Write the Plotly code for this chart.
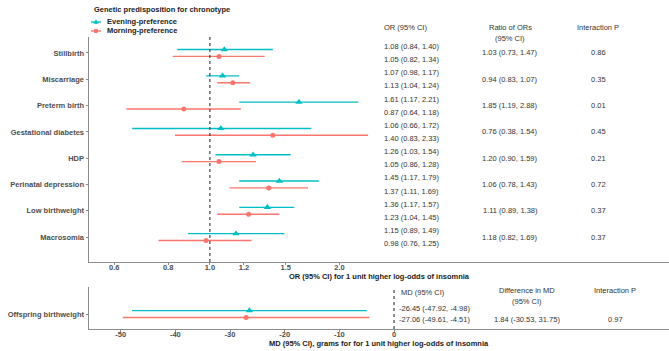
import plotly.graph_objects as go
import math

# ---------------- data ----------------
outcomes = ["Stillbirth", "Miscarriage", "Preterm birth", "Gestational diabetes",
            "HDP", "Perinatal depression", "Low birthweight", "Macrosomia"]
eve_or = [1.08, 1.07, 1.61, 1.06, 1.26, 1.45, 1.36, 1.15]
eve_lo = [0.84, 0.98, 1.17, 0.66, 1.03, 1.17, 1.17, 0.89]
eve_hi = [1.40, 1.17, 2.21, 1.72, 1.54, 1.79, 1.57, 1.49]
mor_or = [1.05, 1.13, 0.87, 1.40, 1.05, 1.37, 1.23, 0.98]
mor_lo = [0.82, 1.04, 0.64, 0.83, 0.86, 1.11, 1.04, 0.76]
mor_hi = [1.34, 1.24, 1.18, 2.33, 1.28, 1.69, 1.45, 1.25]
ratio_est = [1.03, 0.94, 1.85, 0.76, 1.20, 1.06, 1.11, 1.18]
ratio_lo = [0.73, 0.83, 1.19, 0.38, 0.90, 0.78, 0.89, 0.82]
ratio_hi = [1.47, 1.07, 2.88, 1.54, 1.59, 1.43, 1.38, 1.69]
p_inter = ["0.86", "0.35", "0.01", "0.45", "0.21", "0.72", "0.37", "0.37"]

or_ticks = [0.6, 0.8, 1.0, 1.2, 1.5, 2.0]
or_ticklabels = ["0.6", "0.8", "1.0", "1.2", "1.5", "2.0"]

bw_outcome = ["Offspring birthweight"]
bw_eve = [-26.45]; bw_eve_lo = [-47.92]; bw_eve_hi = [-4.98]
bw_mor = [-27.06]; bw_mor_lo = [-49.61]; bw_mor_hi = [-4.51]
bw_diff = [1.84]; bw_diff_lo = [-30.53]; bw_diff_hi = [31.75]
bw_p = ["0.97"]
md_ticks = [-50, -40, -30, -20, -10, 0]

series_names = ["Evening-preference", "Morning-preference"]

# ---------------- style ----------------
TEAL = "#00BFC4"
SALMON = "#F8766D"
FONT = "Liberation Sans"
AXC = "#8c8c8c"
LABC = "#4d4d4d"
TXT = "#333333"
FS = 7.5

W, H = 669, 351
ML, MR, MT, MB = 89, 0, 37, 22
PW = W - ML - MR
PH = H - MT - MB


def px(xp):
    return (xp - ML) / PW


def py(yp):
    return (H - MB - yp) / PH


def fmt(e, lo, hi):
    return f"{e:.2f} ({lo:.2f}, {hi:.2f})"


n = len(outcomes)
rows = [n - i for i in range(n)]
dodge = 0.13
tdodge = 0.25

fig = go.Figure()

# top panel
fig.add_trace(go.Scatter(
    x=eve_or, y=[r + dodge for r in rows], mode="markers", name=series_names[0],
    marker=dict(symbol="triangle-up", size=6.5, color=TEAL),
    error_x=dict(type="data", symmetric=False,
                 array=[h - e for e, h in zip(eve_or, eve_hi)],
                 arrayminus=[e - l for e, l in zip(eve_or, eve_lo)],
                 color=TEAL, thickness=1.4, width=0),
    xaxis="x", yaxis="y", showlegend=False))
fig.add_trace(go.Scatter(
    x=mor_or, y=[r - dodge for r in rows], mode="markers", name=series_names[1],
    marker=dict(symbol="circle", size=5, color=SALMON),
    error_x=dict(type="data", symmetric=False,
                 array=[h - e for e, h in zip(mor_or, mor_hi)],
                 arrayminus=[e - l for e, l in zip(mor_or, mor_lo)],
                 color=SALMON, thickness=1.4, width=0),
    xaxis="x", yaxis="y", showlegend=False))

# bottom panel
fig.add_trace(go.Scatter(
    x=bw_eve, y=[1 + dodge], mode="markers", name=series_names[0],
    marker=dict(symbol="triangle-up", size=6.5, color=TEAL),
    error_x=dict(type="data", symmetric=False,
                 array=[h - e for e, h in zip(bw_eve, bw_eve_hi)],
                 arrayminus=[e - l for e, l in zip(bw_eve, bw_eve_lo)],
                 color=TEAL, thickness=1.4, width=0),
    xaxis="x2", yaxis="y2", showlegend=False))
fig.add_trace(go.Scatter(
    x=bw_mor, y=[1 - dodge], mode="markers", name=series_names[1],
    marker=dict(symbol="circle", size=5, color=SALMON),
    error_x=dict(type="data", symmetric=False,
                 array=[h - e for e, h in zip(bw_mor, bw_mor_hi)],
                 arrayminus=[e - l for e, l in zip(bw_mor, bw_mor_lo)],
                 color=SALMON, thickness=1.4, width=0),
    xaxis="x2", yaxis="y2", showlegend=False))

top_dom = [py(262), 1]
bot_dom = [0, py(287)]

axis_common = dict(showline=True, linecolor=AXC, linewidth=1, showgrid=False,
                   zeroline=False, ticks="outside", tickcolor=AXC,
                   tickfont=dict(family=FONT, size=FS, color=LABC, weight="bold"))

fig.update_layout(
    width=W, height=H,
    margin=dict(l=ML, r=MR, t=MT, b=MB, autoexpand=False),
    paper_bgcolor="white", plot_bgcolor="white",
    font=dict(family=FONT, size=FS, color=TXT),
    xaxis=dict(type="log", range=[math.log10(0.524), math.log10(11.64)],
               tickvals=or_ticks, ticktext=or_ticklabels, anchor="y",
               domain=[0, 1], ticklen=2, ticklabelstandoff=-4, **axis_common),
    yaxis=dict(range=[0.053, 8.608], tickvals=rows, ticktext=outcomes,
               domain=top_dom, anchor="x", ticklen=2.5, **axis_common),
    xaxis2=dict(range=[-55.8, 50.3], tickvals=md_ticks,
                ticktext=[str(t) for t in md_ticks], anchor="y2",
                domain=[0, 1], ticklen=2, ticklabelstandoff=-4, **axis_common),
    yaxis2=dict(range=[0.43, 2.027], tickvals=[1], ticktext=bw_outcome,
                domain=bot_dom, anchor="x2", ticklen=2.5, **axis_common),
)

shapes = []
# reference lines
shapes.append(dict(type="line", xref="x", yref="y domain", x0=1, x1=1, y0=0, y1=1,
                   line=dict(color="#333333", width=1.1, dash="dot")))
shapes.append(dict(type="line", xref="x2", yref="y2 domain", x0=0, x1=0, y0=0, y1=1,
                   line=dict(color="#333333", width=1.1, dash="dot")))

ann = []


def A(text, xp, yval, yref="paper", anchor="left", bold=False, color=TXT, size=FS):
    ann.append(dict(text=text, x=px(xp), xref="paper", y=yval, yref=yref,
                    xanchor=anchor, yanchor="middle", showarrow=False,
                    font=dict(family=FONT, size=size, color=color,
                              weight="bold" if bold else "normal")))


# legend (custom)
A("Genetic predisposition for chronotype", 92, py(9), bold=True, color="#1a1a1a")
leg_y = [22, 31]
leg_col = [TEAL, SALMON]
for i, nm in enumerate(series_names):
    A(nm, 105, py(leg_y[i]), bold=True, color="#1a1a1a")
    shapes.append(dict(type="line", xref="paper", yref="paper",
                       x0=px(91), x1=px(101), y0=py(leg_y[i]), y1=py(leg_y[i]),
                       line=dict(color=leg_col[i], width=1.4)))
shapes.append(dict(type="path", xref="paper", yref="paper",
                   path=f"M {px(93.3)} {py(leg_y[0] + 1.8)} L {px(98.7)} {py(leg_y[0] + 1.8)} "
                        f"L {px(96)} {py(leg_y[0] - 2.8)} Z",
                   fillcolor=TEAL, line=dict(width=0)))
shapes.append(dict(type="circle", xref="paper", yref="paper",
                   x0=px(93.7), x1=px(98.3), y0=py(leg_y[1] - 2.3), y1=py(leg_y[1] + 2.3),
                   fillcolor=SALMON, line=dict(width=0)))

# top table headers
A("OR (95% CI)", 382, py(27))
A("Ratio of ORs", 510, py(27), anchor="center")
A("(95% CI)", 510, py(38), anchor="center")
A("Interaction P", 598, py(27), anchor="center")

for i, r in enumerate(rows):
    A(fmt(eve_or[i], eve_lo[i], eve_hi[i]), 382, r + tdodge, yref="y")
    A(fmt(mor_or[i], mor_lo[i], mor_hi[i]), 382, r - tdodge, yref="y")
    A(fmt(ratio_est[i], ratio_lo[i], ratio_hi[i]), 510, r, yref="y", anchor="center")
    A(p_inter[i], 598, r, yref="y", anchor="center")

# bottom table
A("MD (95% CI)", 399, py(292))
A("Difference in MD", 527, py(290), anchor="center")
A("(95% CI)", 527, py(301), anchor="center")
A("Interaction P", 615, py(290), anchor="center")
A(fmt(bw_eve[0], bw_eve_lo[0], bw_eve_hi[0]), 397, 1 + tdodge * 0.8, yref="y2")
A(fmt(bw_mor[0], bw_mor_lo[0], bw_mor_hi[0]), 397, 1 - tdodge * 0.8, yref="y2")
A(fmt(bw_diff[0], bw_diff_lo[0], bw_diff_hi[0]), 527, 1 - tdodge * 0.8, yref="y2", anchor="center")
A(bw_p[0], 615, 1 - tdodge * 0.8, yref="y2", anchor="center")

# axis titles
A("OR (95% CI) for 1 unit higher log-odds of insomnia", 380, py(276), anchor="center",
  bold=True, color="#1a1a1a")
A("MD (95% CI), grams for for 1 unit higher log-odds of insomnia", 379, py(343),
  anchor="center", bold=True, color="#1a1a1a")

fig.update_layout(shapes=shapes, annotations=ann)
fig.write_html("out.html", config={"displayModeBar": False},
               post_script="document.body.style.margin='0';")
